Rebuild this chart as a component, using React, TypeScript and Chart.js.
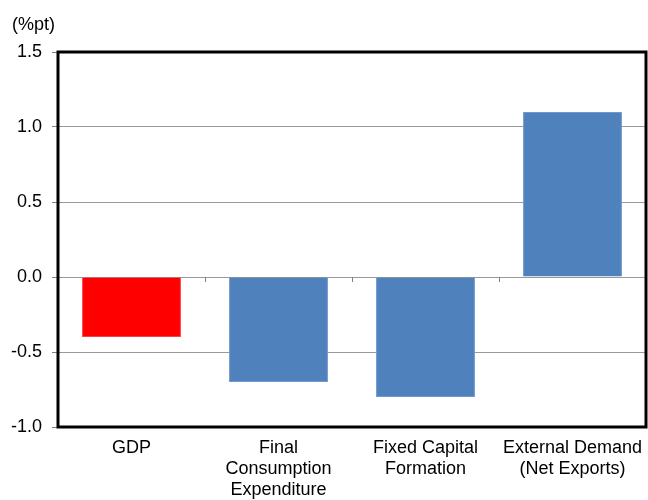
import React, { useEffect, useRef } from "react";
import { Chart, registerables } from "chart.js";

Chart.register(...registerables);

const categories: string[][] = [
  ["GDP"],
  ["Final", "Consumption", "Expenditure"],
  ["Fixed Capital", "Formation"],
  ["External Demand", "(Net Exports)"],
];
const values: number[] = [-0.4, -0.7, -0.8, 1.1];
const barColors: string[] = ["#FF0000", "#4F81BD", "#4F81BD", "#4F81BD"];
const yMin = -1.0;
const yMax = 1.5;
const yStep = 0.5;
const unitLabel = "(%pt)";

const FONT = "'Liberation Sans', Arial, sans-serif";

export default function App() {
  const ref = useRef<HTMLCanvasElement | null>(null);

  useEffect(() => {
    if (!ref.current) return;
    const framePlugin = {
      id: "frame",
      afterDatasetsDraw(chart: any) {
        const { ctx, chartArea, scales } = chart;
        const x = scales.x;
        const y = scales.y;
        const y0 = y.getPixelForValue(0);
        ctx.save();
        ctx.strokeStyle = "#808080";
        ctx.lineWidth = 1;
        for (let i = 0; i < categories.length - 1; i++) {
          const px = Math.round((x.getPixelForValue(i) + x.getPixelForValue(i + 1)) / 2) + 0.5;
          ctx.beginPath();
          ctx.moveTo(px, y0);
          ctx.lineTo(px, y0 + 5);
          ctx.stroke();
        }
        ctx.strokeStyle = "#000000";
        ctx.lineWidth = 3;
        ctx.strokeRect(
          chartArea.left,
          chartArea.top,
          chartArea.right - chartArea.left,
          chartArea.bottom - chartArea.top
        );
        ctx.fillStyle = "#000000";
        ctx.font = `18px ${FONT}`;
        ctx.textAlign = "left";
        ctx.textBaseline = "middle";
        ctx.fillText(unitLabel, 12, chartArea.top - 27);
        ctx.restore();
      },
    };

    const chart = new Chart(ref.current, {
      type: "bar",
      data: {
        labels: categories,
        datasets: [
          {
            data: values,
            backgroundColor: barColors,
            borderColor: barColors.map((c) => (c === "#FF0000" ? "#FF4040" : "#7197CC")),
            borderWidth: 1,
            barPercentage: 0.673,
            categoryPercentage: 1,
          },
        ],
      },
      options: {
        responsive: false,
        animation: false,
        layout: { padding: { top: 52, right: 2, left: 0, bottom: 0 } },
        plugins: {
          legend: { display: false },
          tooltip: { enabled: false },
          title: { display: false },
        },
        scales: {
          x: {
            grid: { display: false, drawTicks: false },
            border: { display: false },
            ticks: {
              color: "#000000",
              font: { family: FONT, size: 18, lineHeight: 1.15 },
              padding: 11,
              maxRotation: 0,
              autoSkip: false,
            },
            afterFit(scale: any) {
              scale.height = 73;
              scale.paddingLeft = 0;
              scale.paddingRight = 0;
            },
          },
          y: {
            min: yMin,
            max: yMax,
            grid: {
              color: "#999999",
              tickColor: "#808080",
              tickLength: 6,
              lineWidth: 1,
            },
            border: { display: false },
            ticks: {
              stepSize: yStep,
              color: "#000000",
              font: { family: FONT, size: 18 },
              padding: 10,
              callback: (v: any) => Number(v).toFixed(1),
            },
            afterFit(scale: any) {
              scale.width = 58;
              scale.paddingTop = 0;
              scale.paddingBottom = 0;
            },
          },
        },
      },
      plugins: [framePlugin],
    });
    return () => chart.destroy();
  }, []);

  return (
    <canvas
      ref={ref}
      width={648}
      height={500}
      style={{ position: "absolute", left: 0, top: 0, display: "block", background: "#ffffff" }}
    />
  );
}
